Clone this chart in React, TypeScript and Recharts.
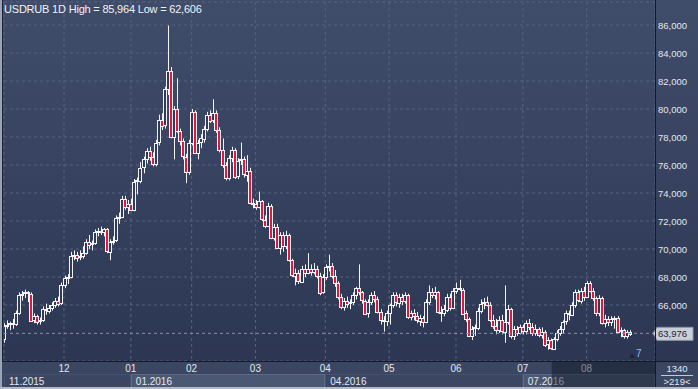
import { ComposedChart, Bar, XAxis, YAxis, CartesianGrid, ReferenceLine } from "recharts";

// daily USDRUB candles, 03.11.2015 .. 19.08.2016
const opens = [
  63.6, 64.5, 64.6, 64.7, 64.6, 65.4, 66.7, 66.8, 66.9, 66.8,
  64.9, 65.2, 64.8, 64.9, 65.7, 65.6, 65.8, 66.0, 66.3, 66.1,
  67.4, 67.9, 68.0, 69.5, 69.6, 69.4, 69.5, 69.7, 70.5, 70.3,
  70.4, 71.2, 71.3, 71.2, 71.4, 69.8, 70.5, 70.6, 72.2, 72.3,
  73.6, 73.0, 73.2, 72.8, 74.8, 74.9, 75.8, 76.4, 77.0, 76.6,
  76.1, 77.6, 79.2, 78.8, 81.4, 82.7, 78.0, 80.0, 78.4, 77.7,
  76.6, 75.5, 77.6, 79.8, 76.9, 77.6, 77.9, 78.6, 79.6, 79.2,
  79.7, 78.5, 77.1, 76.0, 75.1, 76.5, 77.1, 75.2, 76.3, 76.4,
  75.3, 75.6, 73.3, 73.2, 73.0, 73.4, 72.1, 71.7, 73.1, 70.8,
  71.6, 70.1, 71.0, 70.2, 71.0, 69.2, 68.1, 68.3, 67.7, 68.6,
  68.3, 68.6, 68.4, 68.6, 68.1, 66.9, 68.0, 68.7, 68.8, 68.1,
  67.6, 66.6, 65.9, 66.3, 66.1, 66.2, 66.7, 67.2, 66.9, 66.3,
  65.4, 66.2, 66.7, 66.4, 65.5, 64.9, 64.8, 65.4, 66.0, 66.7,
  66.2, 66.6, 66.3, 66.7, 65.1, 65.4, 65.2, 64.9, 65.1, 64.8,
  66.2, 66.9, 66.7, 66.9, 65.5, 65.4, 65.7, 66.6, 65.8, 67.0,
  67.2, 67.1, 65.4, 65.0, 63.8, 64.3, 64.4, 65.6, 66.1, 66.2,
  66.0, 64.9, 64.5, 64.2, 64.9, 64.1, 64.8, 65.7, 63.8, 64.3,
  64.0, 64.4, 64.1, 64.7, 64.4, 64.0, 64.3, 63.9, 64.1, 63.2,
  63.5, 62.9, 63.6, 64.0, 64.3, 64.8, 65.4, 65.3, 66.0, 66.9,
  66.3, 67.0, 66.6, 67.6, 67.0, 66.5, 65.4, 66.5, 64.7, 65.0,
  64.8, 65.0, 65.1, 64.1, 64.2, 63.8, 64.1,
];
const highs = [
  64.7, 64.9, 64.8, 65.0, 65.6, 66.9, 67.0, 67.1, 67.0, 66.9,
  65.4, 65.3, 65.1, 65.9, 66.1, 66.0, 66.2, 66.5, 66.6, 67.6,
  68.1, 68.2, 69.8, 69.9, 69.8, 69.9, 70.2, 70.7, 71.0, 70.6,
  71.4, 71.5, 71.6, 71.5, 71.5, 70.7, 70.9, 72.4, 72.6, 73.8,
  73.8, 73.5, 73.6, 75.0, 75.1, 76.2, 76.6, 77.2, 77.3, 76.9,
  77.8, 79.6, 79.7, 81.6, 85.964, 83.0, 80.2, 82.2, 78.6, 77.9,
  76.8, 77.8, 80.0, 79.9, 77.8, 78.2, 78.8, 79.8, 79.9, 80.7,
  79.9, 78.7, 77.9, 76.2, 76.7, 77.3, 77.2, 76.5, 77.6, 76.6,
  76.7, 75.8, 73.6, 73.5, 74.1, 73.5, 72.4, 73.3, 73.2, 71.8,
  71.8, 71.2, 71.2, 71.3, 71.1, 69.3, 68.6, 68.5, 68.8, 68.9,
  69.7, 68.9, 69.0, 68.8, 68.3, 68.2, 68.9, 69.6, 69.0, 68.5,
  67.7, 66.8, 66.5, 66.6, 66.4, 66.9, 67.3, 68.9, 67.0, 66.4,
  66.4, 66.9, 67.0, 66.6, 65.7, 65.2, 65.6, 66.1, 66.9, 66.9,
  66.8, 66.8, 66.9, 66.8, 65.6, 65.7, 65.5, 65.3, 65.2, 66.4,
  67.4, 67.2, 67.3, 67.0, 65.9, 66.0, 66.8, 66.8, 67.2, 67.6,
  67.8, 67.2, 65.6, 65.1, 64.5, 64.6, 65.8, 66.4, 66.5, 66.6,
  66.2, 65.3, 65.0, 65.2, 65.3, 67.4, 66.0, 65.8, 64.5, 64.5,
  64.6, 64.6, 64.9, 65.0, 64.7, 64.6, 64.4, 64.4, 64.2, 63.7,
  63.6, 63.7, 64.2, 64.5, 64.9, 65.6, 65.6, 66.2, 67.1, 67.1,
  67.2, 67.3, 67.7, 67.7, 67.2, 66.6, 66.7, 66.6, 65.3, 65.2,
  65.2, 65.2, 65.2, 64.4, 64.3, 64.2, 64.2,
];
const lows = [
  63.3, 64.3, 64.2, 64.3, 64.5, 65.3, 66.3, 66.5, 66.2, 64.8,
  64.7, 64.6, 64.6, 64.8, 65.3, 65.4, 65.6, 65.8, 65.9, 66.0,
  67.2, 67.5, 67.9, 69.2, 69.1, 69.2, 69.3, 69.6, 70.0, 69.9,
  70.3, 70.9, 71.0, 70.9, 69.7, 69.2, 70.3, 70.5, 71.8, 72.2,
  72.8, 72.5, 72.7, 72.7, 73.9, 74.7, 75.4, 76.1, 76.3, 75.9,
  75.9, 77.4, 78.5, 78.6, 81.0, 77.9, 76.4, 78.3, 77.4, 76.4,
  74.7, 75.3, 77.4, 76.8, 76.4, 77.2, 77.6, 78.4, 79.0, 79.0,
  78.3, 76.9, 75.8, 74.9, 74.9, 76.2, 75.0, 75.0, 76.0, 75.1,
  74.8, 73.2, 72.9, 72.8, 72.9, 72.0, 71.5, 71.6, 70.7, 70.6,
  70.0, 69.6, 69.8, 70.0, 69.1, 68.0, 67.4, 67.5, 67.6, 68.0,
  68.2, 68.1, 68.2, 67.9, 66.7, 66.8, 67.8, 68.4, 67.9, 67.3,
  66.4, 65.7, 65.6, 65.8, 65.7, 66.0, 66.4, 66.7, 66.1, 65.3,
  65.1, 66.0, 66.2, 65.4, 64.6, 64.1, 64.5, 64.6, 65.8, 65.9,
  65.8, 66.0, 66.1, 65.0, 64.9, 64.9, 64.7, 64.5, 64.4, 64.7,
  66.0, 66.5, 66.4, 65.4, 64.8, 65.2, 65.5, 65.6, 65.7, 66.8,
  67.0, 65.3, 64.8, 63.7, 63.5, 63.8, 64.2, 65.4, 65.7, 65.9,
  64.8, 64.3, 63.9, 64.0, 63.9, 63.3, 64.6, 63.6, 63.5, 63.8,
  63.9, 63.9, 63.9, 64.2, 63.8, 63.8, 63.7, 63.6, 63.0, 62.8,
  62.8, 62.8, 63.4, 63.8, 64.0, 64.6, 64.9, 65.2, 65.8, 66.2,
  66.1, 66.3, 66.5, 66.9, 66.3, 65.2, 65.2, 64.6, 64.4, 64.5,
  64.5, 64.3, 64.0, 63.7, 63.6, 63.6, 63.8,
];
const closes = [
  64.5, 64.6, 64.7, 64.6, 65.4, 66.7, 66.8, 66.9, 66.8, 64.9,
  65.2, 64.8, 64.9, 65.7, 65.6, 65.8, 66.0, 66.3, 66.1, 67.4,
  67.9, 68.0, 69.5, 69.6, 69.4, 69.5, 69.7, 70.5, 70.3, 70.4,
  71.2, 71.3, 71.2, 71.4, 69.8, 70.5, 70.6, 72.2, 72.3, 73.6,
  73.0, 73.2, 72.8, 74.8, 74.9, 75.8, 76.4, 77.0, 76.6, 76.1,
  77.6, 79.2, 78.8, 81.4, 82.7, 78.0, 80.0, 78.4, 77.7, 76.6,
  75.5, 77.6, 79.8, 76.9, 77.6, 77.9, 78.6, 79.6, 79.2, 79.7,
  78.5, 77.1, 76.0, 75.1, 76.5, 77.1, 75.2, 76.3, 76.4, 75.3,
  75.6, 73.3, 73.2, 73.0, 73.4, 72.1, 71.7, 73.1, 70.8, 71.6,
  70.1, 71.0, 70.2, 71.0, 69.2, 68.1, 68.3, 67.7, 68.6, 68.3,
  68.6, 68.4, 68.6, 68.1, 66.9, 68.0, 68.7, 68.8, 68.1, 67.6,
  66.6, 65.9, 66.3, 66.1, 66.2, 66.7, 67.2, 66.9, 66.3, 65.4,
  66.2, 66.7, 66.4, 65.5, 64.9, 64.8, 65.4, 66.0, 66.7, 66.2,
  66.6, 66.3, 66.7, 65.1, 65.4, 65.2, 64.9, 65.1, 64.8, 66.2,
  66.9, 66.7, 66.9, 65.5, 65.4, 65.7, 66.6, 65.8, 67.0, 67.2,
  67.1, 65.4, 65.0, 63.8, 64.3, 64.4, 65.6, 66.1, 66.2, 66.0,
  64.9, 64.5, 64.2, 64.9, 64.1, 64.8, 65.7, 63.8, 64.3, 64.0,
  64.4, 64.1, 64.7, 64.4, 64.0, 64.3, 63.9, 64.1, 63.2, 63.5,
  62.9, 63.6, 64.0, 64.3, 64.8, 65.4, 65.3, 66.0, 66.9, 66.3,
  67.0, 66.6, 67.6, 67.0, 66.5, 65.4, 66.5, 64.7, 65.0, 64.8,
  65.0, 65.1, 64.1, 64.2, 63.8, 64.1, 63.976,
];

// first bar index of each month / quarter
const monthStarts = [20, 42, 62, 83, 106, 127, 149, 171, 192];
const monthLabels = ["12", "01", "02", "03", "04", "05", "06", "07", "08"];
const quarterStarts = [0, 42, 106, 171];
const quarterLabels = ["11.2015", "01.2016", "04.2016", "07.2016"];
const priceTicks = [66, 68, 70, 72, 74, 76, 78, 80, 82, 84, 86];
const navStart = 180;

const symbol = "USDRUB";
const period = "1D";
const rangeHigh = 85.964;
const rangeLow = 62.606;
const lastPrice = 63.976;

const FONT = "'Liberation Sans', Arial, sans-serif";
const X_DOMAIN: [number, number] = [-0.25, 214];
const PLOT_LEFT = 4;
const PLOT_RIGHT = 655;
const PX = (PLOT_RIGHT - PLOT_LEFT) / (X_DOMAIN[1] - X_DOMAIN[0]);

const rows = opens.map((o, i) => ({
  i,
  open: o,
  high: highs[i],
  low: lows[i],
  close: closes[i],
  range: [lows[i], highs[i]],
}));

const monthTicks = monthStarts.map((s) => s - 0.5);
const quarterTicks = quarterStarts.map((s) => Math.max(s - 0.5, X_DOMAIN[0]));

const fmt = (v: number) => v.toFixed(3).replace(".", ",");

function Candle(props: any) {
  const { x, y, width, height, payload } = props;
  const { open, close, high, low } = payload;
  const k = high - low > 0 ? height / (high - low) : 0;
  const c = Math.round(x + width / 2);
  const yo = y + (high - open) * k;
  const yc = y + (high - close) * k;
  const top = Math.round(Math.min(yo, yc));
  const bh = Math.max(Math.round(Math.abs(yc - yo)), 1);
  const down = close < open;
  return (
    <g>
      <line x1={c - 0.5} x2={c - 0.5} y1={y} y2={y + height} stroke="#f4f4f4" strokeWidth={1} />
      <rect
        x={c - 2.5}
        y={top + 0.5}
        width={3}
        height={bh}
        fill={down ? "#e3163d" : "#2f3b58"}
        stroke="#f4f4f4"
        strokeWidth={1}
      />
    </g>
  );
}

function MonthTick(props: any) {
  const { x, index } = props;
  return (
    <text x={x} y={372} textAnchor="middle" fontSize={10} fontFamily={FONT} fill="#e2e7ef">
      {monthLabels[index]}
    </text>
  );
}

function QuarterTick(props: any) {
  const { x, index, payload } = props;
  const last = index === quarterTicks.length - 1;
  const w = last ? PLOT_RIGHT - x : (quarterTicks[index + 1] - quarterTicks[index]) * PX;
  const light = index % 2 === 1;
  const navX = x + (navStart - payload.value) * PX;
  return (
    <g>
      <rect
        x={Math.round(x) + 0.5}
        y={374.5}
        width={Math.round(w) - 1}
        height={14}
        fill={light ? "#4b5873" : "#3a4662"}
        stroke={light ? "#5e6b86" : "#46526d"}
        strokeWidth={1}
      />
      <text x={x + 5} y={385} fontSize={10} fontFamily={FONT} fill="#e2e7ef">
        {quarterLabels[index]}
      </text>
      {last && (
        <rect x={navX} y={362} width={PLOT_RIGHT - navX} height={27} fill="rgba(14,19,34,0.45)" />
      )}
    </g>
  );
}

function PriceTick(props: any) {
  const { y, payload } = props;
  return (
    <text x={658} y={y + 3.5} fontSize={9.5} fontFamily={FONT} fill="#e2e7ef">
      {fmt(payload.value)}
    </text>
  );
}

function LastPriceLabel(props: any) {
  const { viewBox } = props;
  const y = viewBox.y;
  const x0 = viewBox.x + viewBox.width - 2;
  return (
    <g>
      <polygon
        points={`${x0},${y} ${x0 + 4},${y - 6} ${x0 + 40},${y - 6} ${x0 + 40},${y + 7} ${x0 + 4},${y + 7}`}
        fill="#c9ced7"
        stroke="#8f98a8"
        strokeWidth={1}
      />
      <text x={x0 + 5} y={y + 4} fontSize={9.5} fontFamily={FONT} fill="#1d2433">
        {fmt(lastPrice)}
      </text>
    </g>
  );
}

export default function App() {
  return (
    <div
      style={{
        position: "absolute",
        left: 0,
        top: 0,
        width: 698,
        height: 389,
        overflow: "hidden",
        background: "linear-gradient(#404d6a, #2b3552)",
        fontFamily: FONT,
      }}
    >
      <div style={{ position: "absolute", left: 0, top: 361, width: 698, height: 28, background: "#3a4662" }} />
      <ComposedChart width={698} height={389} data={rows} margin={{ top: 2, right: 0, bottom: 0, left: PLOT_LEFT }}>
        <CartesianGrid stroke="#56637f" strokeDasharray="3 3" />
        <XAxis
          xAxisId={0}
          dataKey="i"
          type="number"
          domain={X_DOMAIN}
          ticks={monthTicks}
          interval={0}
          height={13}
          axisLine={false}
          tickLine={false}
          tick={MonthTick}
          allowDataOverflow
        />
        <XAxis
          xAxisId="q"
          dataKey="i"
          type="number"
          domain={X_DOMAIN}
          ticks={quarterTicks}
          interval={0}
          height={15}
          axisLine={false}
          tickLine={false}
          tick={QuarterTick}
          allowDataOverflow
        />
        <YAxis
          orientation="right"
          domain={[62, 87.643]}
          ticks={priceTicks}
          interval={0}
          width={43}
          axisLine={false}
          tickLine={false}
          tick={PriceTick}
          allowDataOverflow
        />
        <ReferenceLine y={lastPrice} stroke="#8a94a8" strokeDasharray="3 3" label={<LastPriceLabel />} />
        <Bar dataKey="range" xAxisId={0} barSize={3} isAnimationActive={false} shape={<Candle />} />
      </ComposedChart>

      <div style={{ position: "absolute", left: 4, top: 3, fontSize: 11, color: "#f0f3f7", letterSpacing: -0.2, whiteSpace: "nowrap" }}>
        {symbol} {period} High = {fmt(rangeHigh)} Low = {fmt(rangeLow)}
      </div>
      <div style={{ position: "absolute", left: 655, top: 0, width: 1, height: 389, background: "#151a28" }} />
      <div style={{ position: "absolute", left: 0, top: 361, width: 698, height: 1, background: "#151a28" }} />
      <div style={{ position: "absolute", left: 0, top: 0, width: 2, height: 389, background: "#9aa4b6" }} />
      <div style={{ position: "absolute", left: 2, top: 0, width: 1, height: 361, background: "#1d2434" }} />
      <div style={{ position: "absolute", left: 0, top: 387, width: 698, height: 2, background: "#b3bac7" }} />
      <div style={{ position: "absolute", left: 629, top: 353, width: 0, height: 0, borderLeft: "3px solid transparent", borderRight: "3px solid transparent", borderBottom: "5px solid #1f2638" }} />
      <div style={{ position: "absolute", left: 636, top: 348, fontSize: 10, color: "#8fc0ee" }}>7</div>
      <div style={{ position: "absolute", left: 656, top: 363, width: 42, textAlign: "center", fontSize: 9.5, color: "#e2e7ef" }}>1340</div>
      <div style={{ position: "absolute", left: 661, top: 375, width: 32, height: 1, background: "#c3cad6" }} />
      <div style={{ position: "absolute", left: 656, top: 376, width: 42, textAlign: "center", fontSize: 9.5, color: "#e2e7ef" }}>&gt;219&lt;</div>
    </div>
  );
}
